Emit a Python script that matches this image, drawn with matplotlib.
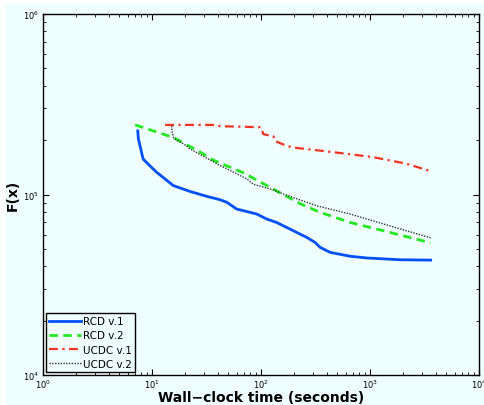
import matplotlib
matplotlib.use('Agg')
import matplotlib.pyplot as plt
from matplotlib.patches import Rectangle
import numpy as np

# 読み取った値 (時間[秒], F(x))
rcd1_t = [7.4, 7.5, 8.3, 9.6, 11.0, 15.7, 22.3, 31.7, 42, 48.5, 59.8, 91, 113, 139,
          198, 262, 313, 348, 430, 656, 933, 1884, 3600]
rcd1_f = [225000, 203000, 157000, 144000, 133000, 112000, 104000, 97700, 93600, 90600,
          83100, 78000, 73100, 70000, 63000, 57900, 54300, 51000, 47800, 45500,
          44500, 43500, 43300]

rcd2_t = [7.0, 15.7, 27.6, 36.5, 68.8, 130, 228, 348, 656, 1325, 3600]
rcd2_f = [243000, 207000, 172000, 155000, 132000, 107000, 89000, 79700, 70000,
          63000, 54000]

ucdc1_t = [13.2, 39.2, 42, 100, 105, 130, 134, 172, 198, 348, 611, 1072, 2170, 3680]
ucdc1_f = [243000, 243000, 239000, 236000, 216000, 210000, 198000, 186000, 182000,
           175000, 168000, 161000, 148000, 134000]

ucdc2_t = [15.2, 15.2, 15.8, 20.8, 22.3, 42, 74, 85, 130, 160, 322, 656, 1325, 3600]
ucdc2_f = [240000, 228000, 205000, 186000, 179000, 145000, 122000, 114000, 106000,
           100700, 86700, 78000, 68700, 57500]

bg = '#EFFEFE'

fig = plt.figure(figsize=(4.84, 4.06), dpi=100, facecolor='white')
fig.patches.append(Rectangle((6 / 484, 0), 1, 402 / 406, transform=fig.transFigure,
                             facecolor=bg, edgecolor='none', zorder=-1))
ax = fig.add_axes([43 / 484, 30 / 406, 436 / 484, 361 / 406])
ax.set_facecolor(bg)

ax.plot(rcd1_t, rcd1_f, color='#0050F5', lw=2.0, label='RCD v.1')
ax.plot(rcd2_t, rcd2_f, color='#22E822', lw=2.0, ls=(0, (3, 2)), label='RCD v.2')
ax.plot(ucdc1_t, ucdc1_f, color='#F53322', lw=1.6, ls=(0, (4, 2, 1, 2)), label='UCDC v.1')
ax.plot(ucdc2_t, ucdc2_f, color='#333333', lw=1.0, ls=(0, (1, 1)), label='UCDC v.2')

ax.set_xscale('log')
ax.set_yscale('log')
ax.set_xlim(1, 1e4)
ax.set_ylim(1e4, 1e6)

ax.tick_params(which='both', direction='in', top=True, right=True, labelsize=6)
ax.tick_params(axis='x', pad=2)
ax.tick_params(axis='y', pad=3)
ax.tick_params(which='major', length=4, width=0.8)
ax.tick_params(which='minor', length=2.5, width=0.6)
for s in ax.spines.values():
    s.set_linewidth(1.0)

ax.set_xlabel('Wall\u2212clock time (seconds)', fontsize=10, fontweight='bold', labelpad=0)
ax.set_ylabel('F(x)', fontsize=10, fontweight='bold', labelpad=2)

leg = ax.legend(loc='lower left', fontsize=7.5, fancybox=False, framealpha=1,
                edgecolor='black', facecolor=bg, handlelength=3.0, handletextpad=0.2,
                borderpad=0.3, labelspacing=0.4, borderaxespad=0.3)
leg.get_frame().set_linewidth(1.0)

plt.savefig('out.png', dpi=100, facecolor='white')
